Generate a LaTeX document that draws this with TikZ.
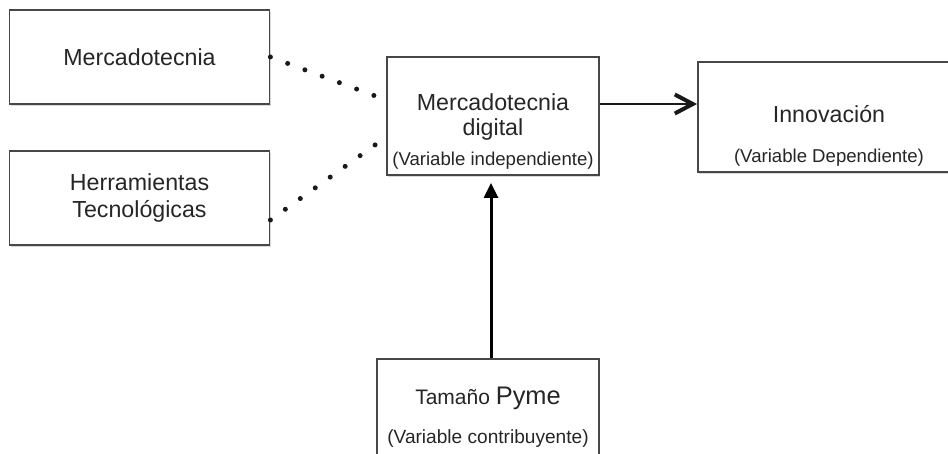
\documentclass[tikz,border=0pt]{standalone}
\usepackage{fontspec}
\setmainfont{Liberation Sans}
\usetikzlibrary{arrows.meta,shadows,positioning}

\begin{document}
\begin{tikzpicture}[x=0.5pt, y=-0.5pt,
    box/.style = {draw=black!72, line width=0.9pt, fill=white, text=black!85, align=center, inner sep=0pt,
                  drop shadow={shadow xshift=0.6pt, shadow yshift=-1pt, opacity=0.3}},
    txt/.style = {text=black!85, align=center, inner sep=0pt},
    big/.style = {font=\fontsize{11.6}{13.5}\selectfont},
    dots/.style = {draw=black!90, line width=2.5pt, line cap=round, dash pattern=on 0pt off 9.2pt, shorten >=5pt}]
        \clip (0,0) rectangle (948,454);
        \node[box, big, minimum width=130pt, minimum height=47pt] (merc) at (139.5,57) {Mercadotecnia};
        \node[box, big, minimum width=130pt, minimum height=47pt] (herr) at (139.5,198) {Herramientas\\Tecnológicas};
        \node[box, minimum width=106pt, minimum height=59pt] (dig) at (493,116) {};
        \node[txt, font=\fontsize{11.6}{12.5}\selectfont] (dig-t) at (493,132)
            {Mercadotecnia\\digital\\[2.5pt]{\fontsize{9.3}{11}\selectfont (Variable independiente)}};
        \node[box, minimum width=131pt, minimum height=55pt] (inn) at (829,117) {};
        \node[txt, font=\fontsize{11.6}{20}\selectfont] (inn-t) at (829,136)
            {Innovación\\{\fontsize{9.3}{11}\selectfont (Variable Dependiente)}};
        \node[box, font=\fontsize{10.5}{19.5}\selectfont, minimum width=111pt, minimum height=58pt] (pyme) at (488,417)
            {Tamaño {\fontsize{12.7}{14}\selectfont Pyme}\\{\fontsize{9.55}{11}\selectfont (Variable contribuyente)}};
        % dotted links into the central box
        \draw[dots] (merc.east) -- ([yshift=8pt]dig.west);
        \draw[dots] ([yshift=-11pt]herr.east) -- ([yshift=-10.5pt]dig.west);
        \draw[-{Straight Barb[length=9pt,width=9.5pt,line width=2pt]}, line width=1.1pt, black!90]
            ([yshift=6pt]dig.east) -- ([yshift=6.5pt]inn.west);
        \draw[-{Triangle[length=7.5pt,width=7pt]}, line width=1.5pt, shorten >=3.5pt]
            ([xshift=1.5pt]pyme.north) -- ([xshift=1.5pt]pyme.north |- dig.south);
\end{tikzpicture}
\end{document}
